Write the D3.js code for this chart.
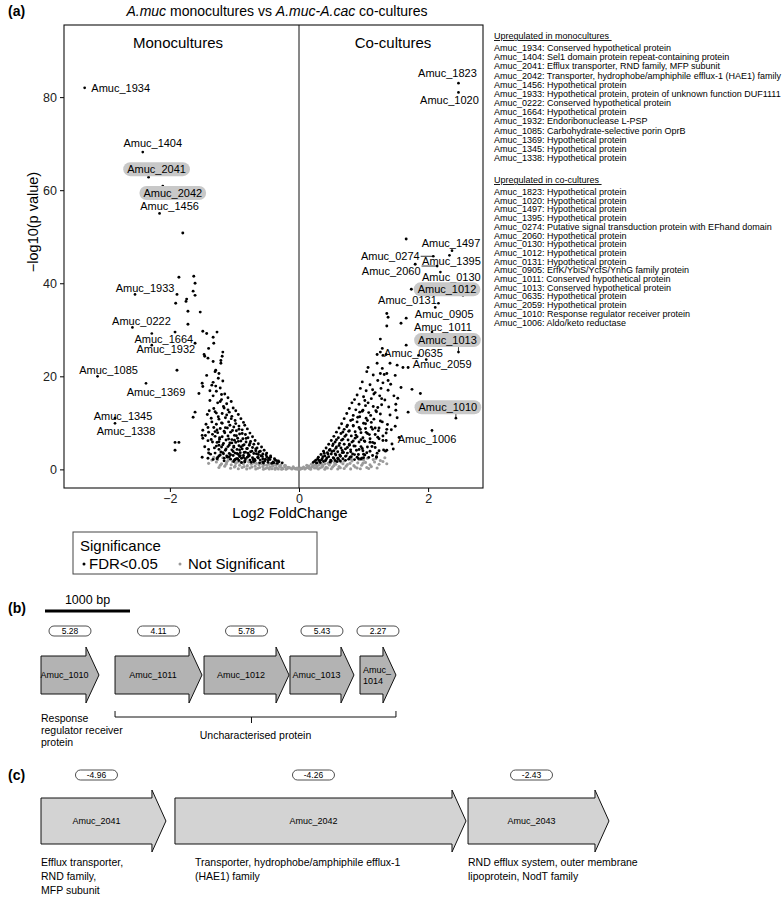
<!DOCTYPE html>
<html>
<head>
<meta charset="utf-8">
<script src="https://cdn.jsdelivr.net/npm/d3@7"></script>
<style>
  body { margin: 0; background: #fff; }
  svg { display: block; font-family: "Liberation Sans", Arial, sans-serif; }
</style>
</head>
<body>
<svg id="fig" width="784" height="903"></svg>
<script>
// ---- data ----
const xTicks = [-2, 0, 2];
const yTicks = [0, 20, 40, 60, 80];

// labelled genes: [name, log2FC, -log10 p]
const labelledGenes = [
  ["Amuc_1934", -3.32, 82.0], ["Amuc_1404", -2.42, 68.2], ["Amuc_2041", -2.33, 62.8],
  ["Amuc_2042", -2.11, 60.9], ["Amuc_1456", -2.16, 55.0], ["Amuc_1933", -2.54, 37.6],
  ["Amuc_0222", -2.58, 30.5], ["Amuc_1664", -2.28, 29.2], ["Amuc_1932", -2.28, 26.7],
  ["Amuc_1085", -3.12, 20.0], ["Amuc_1369", -2.37, 18.5], ["Amuc_1345", -2.85, 11.0],
  ["Amuc_1338", -2.85, 9.9],
  ["Amuc_1823", 2.47, 83.0], ["Amuc_1020", 2.47, 81.0], ["Amuc_1497", 2.37, 47.0],
  ["Amuc_1395", 2.33, 46.0], ["Amuc_0274", 2.08, 45.8], ["Amuc_2060", 2.14, 43.7],
  ["Amuc_0130", 2.19, 42.4], ["Amuc_1012", 2.54, 37.4], ["Amuc_0131", 2.16, 35.7],
  ["Amuc_0905", 2.11, 34.8], ["Amuc_1011", 2.06, 29.5], ["Amuc_1013", 2.47, 25.2],
  ["Amuc_0635", 1.85, 24.5], ["Amuc_2059", 1.97, 23.6], ["Amuc_1010", 2.43, 11.0],
  ["Amuc_1006", 2.06, 8.4]
];

// other significant genes (FDR<0.05), monoculture side
const sigMono = [
  [-1.80,50.8],[-1.86,41.3],[-1.63,41.5],[-1.61,40.0],[-1.64,38.3],[-1.61,37.4],[-1.89,37.6],[-1.91,35.7],
  [-1.74,36.6],[-1.75,36.1],[-1.72,34.0],[-1.53,33.8],[-1.72,31.2],[-1.92,29.5],[-1.49,29.7],[-1.43,29.2],
  [-1.27,29.5],[-1.33,28.4],[-1.32,27.1],[-1.61,27.1],[-1.40,26.0],[-1.47,24.7],[-1.46,24.3],[-1.18,25.2],
  [-1.19,24.3],[-1.41,23.9],[-1.21,23.4],[-1.21,22.8],[-1.33,23.2],[-1.89,21.3],[-1.43,20.2],[-1.29,21.3],
  [-1.24,20.6],[-1.50,18.5],[-1.49,17.8],[-1.35,18.1],[-1.55,16.3],[-1.61,12.3],[-1.64,11.2],[-1.49,8.4],
  [-1.50,7.3],[-1.49,6.7],[-1.41,9.0],[-1.40,8.0],[-1.92,5.8],[-1.86,5.8],[-1.92,4.1],[-1.50,2.6],
  [-1.41,2.4],[-1.40,4.3],[-1.27,5.8],[-1.24,5.2],
  [-1.30,21.0],[-1.25,19.6],[-1.18,19.0],[-1.22,17.5],[-1.28,16.8],[-1.15,16.2],[-1.10,15.4],[-1.20,15.0],
  [-1.33,15.8],[-1.05,14.6],[-1.12,14.1],[-1.26,14.3],[-1.38,14.8],[-1.17,13.5],[-1.02,13.2],
  [-0.98,12.6],[-1.08,12.3],[-1.19,12.0],[-1.30,12.4],[-0.94,11.8],[-1.04,11.4],[-1.14,11.1],[-1.24,10.8],
  [-1.36,11.0],[-0.90,10.9],[-0.99,10.5],[-1.09,10.2],[-1.20,10.0],[-1.28,9.7],[-0.86,10.1],
  [-0.84,9.5],[-0.93,9.3],[-1.01,9.1],[-1.11,8.9],[-1.22,8.8],[-1.32,9.0],[-0.80,8.7],[-0.88,8.5],
  [-0.97,8.3],[-1.06,8.0],[-1.16,8.2],[-1.26,7.9],[-0.76,7.8],[-0.83,7.5],[-0.92,7.6],[-1.00,7.3],
  [-1.10,7.2],[-1.19,7.0],[-1.30,7.1],[-0.72,7.0],[-0.79,6.8],[-0.87,6.6],[-0.95,6.7],[-1.04,6.4],
  [-1.13,6.3],[-1.23,6.5],[-0.68,6.2],[-0.75,6.0],[-0.82,5.9],[-0.90,6.1],[-0.98,5.8],[-1.07,5.7],
  [-1.17,5.6],[-1.34,5.9],
  [-0.63,5.5],[-0.70,5.4],[-0.77,5.2],[-0.85,5.3],[-0.93,5.1],[-1.01,5.0],[-1.10,4.9],[-1.20,4.8],
  [-1.28,5.0],[-0.58,4.8],[-0.65,4.6],[-0.72,4.7],[-0.80,4.5],[-0.88,4.4],[-0.96,4.3],[-1.04,4.2],
  [-1.14,4.1],[-1.24,4.3],[-0.54,4.1],[-0.60,3.9],[-0.67,4.0],[-0.75,3.8],[-0.83,3.7],[-0.91,3.6],
  [-0.99,3.5],[-1.08,3.4],[-1.18,3.6],[-1.30,3.5],[-0.50,3.5],[-0.56,3.3],[-0.63,3.2],[-0.70,3.4],
  [-0.78,3.1],[-0.86,3.0],[-0.94,3.2],[-1.02,3.0],[-1.12,2.9],[-1.22,3.1],
  [-0.44,2.9],[-0.50,2.7],[-0.57,2.8],[-0.64,2.6],[-0.72,2.5],[-0.80,2.6],[-0.89,2.4],[-0.97,2.3],
  [-1.06,2.2],[-1.16,2.4],[-1.27,2.3],[-0.38,2.3],[-0.45,2.1],[-0.52,2.2],[-0.60,2.0],[-0.68,1.9],
  [-0.76,2.0],[-0.84,1.8],[-0.93,1.9],[-1.01,1.7],[-0.32,1.8],[-0.40,1.6],[-0.48,1.5],[-0.56,1.6],
  [-0.26,1.4],[-0.34,1.3],
  [-0.31,1.62],[-0.37,2.05],[-0.42,1.33],[-0.47,2.41],[-0.53,1.78],[-0.59,2.93],[-0.61,1.41],[-0.66,3.37],
  [-0.69,2.18],[-0.73,3.92],[-0.74,1.52],[-0.78,2.84],[-0.81,4.46],[-0.83,2.27],[-0.85,3.63],[-0.87,5.12],
  [-0.89,1.49],[-0.91,2.96],[-0.92,4.18],[-0.94,6.03],[-0.96,3.41],[-0.97,7.24],[-0.99,2.12],[-1.01,4.77],
  [-1.03,8.36],[-1.04,5.69],[-1.06,3.13],[-1.07,9.48],[-1.09,6.52],[-1.11,2.63],[-1.12,11.7],[-1.13,4.39],
  [-1.15,7.86],[-1.16,13.2],[-1.18,5.27],[-1.19,9.93],[-1.21,3.74],[-1.22,14.6],[-1.23,6.81],[-1.25,11.3],
  [-1.26,2.55],[-1.27,8.47],[-1.29,17.9],[-1.31,4.62],[-1.32,13.1],[-1.34,7.53],[-1.35,10.2],[-1.37,3.27],
  [-1.39,12.6],[-1.41,6.18],[-1.44,9.71],[-1.46,4.86],[-0.35,1.88],[-0.44,2.62],[-0.51,3.14],[-0.56,2.29],
  [-0.62,3.76],[-0.67,4.41],[-0.71,2.07],[-0.76,5.58],[-0.79,3.47],[-0.82,6.66],[-0.86,2.58],[-0.88,7.71],
  [-0.90,4.83],[-0.93,8.62],[-0.95,2.31],[-0.98,9.84],[-1.00,6.27],[-1.02,3.86],[-1.05,10.9],[-1.08,5.24],
  [-1.10,12.8],[-1.14,8.97],[-1.17,3.37],[-1.20,16.1],[-1.24,5.94],[-1.28,12.1],[-1.30,8.12],[-1.33,18.7],
  [-1.36,6.43],[-1.38,16.9],[-1.42,11.8],[-1.45,7.29],[-0.39,1.44],[-0.48,1.93],[-0.55,1.37],[-0.63,2.44],
  [-0.70,1.71],[-0.77,2.97],[-0.84,1.61],[-0.92,2.77],[-1.00,1.96],[-1.08,2.71],[-1.16,1.83],[-1.24,2.88],
  [-1.33,2.15],[-1.40,3.51]
];

// other significant genes, co-culture side
const sigCo = [
  [1.66,49.5],[1.80,44.1],[1.74,38.7],[1.36,33.5],[1.38,32.7],[1.66,32.5],[1.58,31.4],[1.36,30.8],
  [1.26,28.0],[1.66,26.7],[1.29,26.0],[1.26,25.2],[1.30,24.5],[1.35,24.7],[1.21,24.7],[1.07,21.9],
  [1.21,22.8],[1.29,21.7],[1.41,22.8],[1.52,22.4],[1.61,21.9],[1.69,21.9],[1.36,20.6],[1.49,20.2],
  [1.26,20.6],[1.75,17.2],[1.88,16.3],[1.69,12.3],[1.53,15.3],[1.50,14.0],[1.50,12.7],[1.36,8.6],
  [1.35,6.2],[1.36,4.1],
  [1.05,21.0],[1.15,20.3],[1.22,19.1],[0.98,18.8],[1.10,18.2],[1.30,18.6],[0.95,17.4],[1.04,16.9],
  [1.18,16.5],[1.38,17.0],[0.90,16.0],[1.00,15.6],[1.12,15.2],[1.25,15.8],[0.86,15.0],
  [0.82,14.3],[0.93,14.0],[1.03,13.7],[1.15,13.5],[1.28,13.9],[0.78,13.1],[0.88,12.8],[0.98,12.5],
  [1.08,12.2],[1.20,12.4],[0.74,12.0],[0.84,11.6],[0.94,11.3],[1.04,11.0],[1.16,10.8],[0.70,10.9],
  [0.80,10.5],[0.90,10.2],[1.00,9.9],[1.12,10.1],[1.26,10.4],
  [0.66,9.8],[0.75,9.5],[0.84,9.3],[0.93,9.0],[1.03,8.8],[1.14,8.6],[1.24,8.9],[0.62,8.9],
  [0.70,8.6],[0.78,8.3],[0.87,8.1],[0.96,7.9],[1.06,7.7],[1.18,7.5],[0.58,8.0],[0.65,7.7],
  [0.73,7.4],[0.81,7.2],[0.90,7.0],[0.99,6.8],[1.10,6.6],[1.22,6.9],[0.54,7.1],[0.61,6.8],
  [0.68,6.5],[0.76,6.3],[0.84,6.1],[0.93,5.9],[1.02,6.0],[1.14,5.8],[1.30,6.2],
  [0.50,6.2],[0.56,5.9],[0.63,5.6],[0.70,5.4],[0.78,5.2],[0.87,5.0],[0.96,4.9],[1.06,4.8],
  [1.18,4.7],[0.46,5.4],[0.52,5.1],[0.58,4.8],[0.65,4.6],[0.72,4.4],[0.80,4.2],[0.89,4.1],
  [0.99,4.0],[1.10,3.9],[1.24,4.0],[0.42,4.6],[0.48,4.3],[0.54,4.0],[0.60,3.8],[0.67,3.6],
  [0.75,3.5],[0.83,3.3],[0.92,3.2],[1.02,3.1],[1.14,3.0],[0.38,3.9],[0.44,3.6],[0.50,3.3],
  [0.57,3.1],[0.64,2.9],[0.72,2.8],[0.81,2.7],[0.90,2.6],[1.00,2.5],[1.20,2.6],
  [0.34,3.2],[0.40,2.9],[0.46,2.7],[0.53,2.5],[0.60,2.4],[0.68,2.3],[0.77,2.2],[0.86,2.1],
  [0.96,2.2],[0.30,2.6],[0.36,2.3],[0.42,2.1],[0.49,2.0],[0.56,1.9],[0.64,1.8],[0.26,2.0],
  [0.32,1.8],[0.38,1.7],[0.22,1.5],[0.28,1.4],
  [0.24,1.72],[0.29,2.28],[0.33,1.46],[0.37,2.74],[0.41,1.87],[0.45,3.29],[0.48,1.58],[0.51,3.83],
  [0.54,2.36],[0.57,4.52],[0.59,1.67],[0.62,5.14],[0.64,2.81],[0.66,6.28],[0.69,3.63],[0.71,7.09],
  [0.72,1.94],[0.75,4.71],[0.77,8.17],[0.79,2.62],[0.82,5.86],[0.84,9.42],[0.86,3.18],[0.88,7.37],
  [0.91,11.2],[0.93,4.27],[0.95,8.64],[0.97,2.43],[0.99,12.7],[1.01,6.13],[1.03,9.81],[1.05,3.56],
  [1.07,14.3],[1.09,7.48],[1.11,11.6],[1.13,4.93],[1.16,16.2],[1.18,8.91],[1.20,2.74],[1.22,13.3],
  [1.24,6.57],[1.27,17.4],[1.29,10.2],[1.31,4.18],[1.33,14.9],[1.35,7.82],[1.38,19.1],[1.41,11.7],
  [1.44,5.46],[1.47,15.8],[1.49,9.26],[0.27,1.38],[0.35,2.05],[0.43,2.46],[0.50,1.79],[0.56,3.34],
  [0.61,2.19],[0.67,4.08],[0.73,2.91],[0.80,3.77],[0.85,5.03],[0.92,2.33],[0.96,6.39],[1.00,3.24],
  [1.04,7.96],[1.08,2.58],[1.12,9.07],[1.17,5.61],[1.21,3.47],[1.26,11.9],[1.30,7.16],[1.34,3.92],
  [1.39,13.4],[1.43,8.51],[1.46,4.37],[1.52,11.1],[1.55,6.84],[1.58,17.6],[0.31,1.94],[0.39,3.46],
  [0.47,4.12],[0.53,5.47],[0.58,6.36],[0.63,3.12],[0.68,8.04],[0.74,9.18],[0.78,5.42],[0.83,10.7],
  [0.87,6.71],[0.94,12.3],[0.98,4.48],[1.02,14.8],[1.06,10.5],[1.10,5.83],[1.14,17.1],[1.19,12.6],
  [1.23,8.33],[1.28,15.2],[1.32,20.4],[1.37,9.64],[1.42,18.3]
];

// not significant genes
const notSig = [
  [-1.28,1.6],[-1.20,1.2],[-1.12,1.5],[-1.05,1.0],[-0.98,1.3],[-0.92,0.9],[-0.86,1.2],[-0.80,0.8],
  [-0.74,1.1],[-0.68,0.7],[-0.62,1.0],[-0.56,0.6],[-0.50,0.9],[-0.45,0.5],[-0.40,0.8],[-0.35,0.4],
  [-0.30,0.7],[-0.26,0.3],[-0.22,0.6],[-0.18,0.2],[-0.15,0.4],[-0.11,0.1],[-0.08,0.3],[-0.05,0.1],
  [-0.02,0.05],[-1.15,0.7],[-1.00,0.5],[-0.88,0.4],[-0.76,0.3],[-0.64,0.25],[-0.52,0.2],[-0.42,0.15],
  [-0.32,0.1],[-0.20,0.05],[-0.95,1.6],[-0.70,1.4],[-0.58,1.2],[-0.46,1.1],[-0.36,1.0],[-0.28,1.0],
  [-0.22,0.9],[-1.35,2.0],[-1.10,1.9],
  [-1.32,2.6],[-1.26,2.1],[-1.22,0.9],[-1.18,2.5],[-1.13,1.1],[-1.08,2.4],[-1.03,1.7],[-0.99,0.7],
  [-0.95,2.2],[-0.90,1.5],[-0.85,0.6],[-0.82,2.0],[-0.78,1.6],[-0.73,0.5],[-0.69,1.8],[-0.66,1.3],
  [-0.61,0.4],[-0.57,1.5],[-0.54,1.0],[-0.49,0.35],[-0.44,1.25],[-0.41,0.7],[-0.37,0.25],[-0.33,1.15],
  [-0.29,0.55],[-0.25,0.15],[-0.21,0.8],[-0.17,0.45],[-0.13,0.25],[-0.09,0.55],[-0.06,0.2],[-0.03,0.3],
  [-1.40,1.3],[-1.24,0.4],[-1.06,0.25],[-0.94,0.15],[-0.81,0.1],[-0.67,0.08],[-0.55,0.05],[-0.46,0.1],
  [-0.37,0.05],[-0.27,0.02],
  [0.02,0.05],[0.05,0.2],[0.09,0.1],[0.12,0.35],[0.16,0.2],[0.20,0.5],[0.24,0.3],[0.28,0.65],
  [0.33,0.35],[0.37,0.8],[0.42,0.45],[0.47,0.95],[0.52,0.5],[0.57,1.1],[0.62,0.6],[0.68,1.2],
  [0.73,0.7],[0.79,1.3],[0.85,0.8],[0.91,1.4],[0.97,0.9],[1.03,1.5],[1.10,1.0],[1.17,1.6],
  [1.24,1.1],[1.30,1.7],[0.25,0.9],[0.35,1.1],[0.45,1.3],[0.55,1.5],[0.65,1.6],[0.82,1.8],
  [1.00,2.0],[1.15,2.1],[0.15,0.7],[0.90,0.3],[0.70,0.2],[0.50,0.15],[0.30,0.1],[1.05,0.4],
  [0.03,0.3],[0.07,0.5],[0.10,0.25],[0.14,0.55],[0.18,0.3],[0.22,0.8],[0.27,0.3],[0.31,1.0],
  [0.36,0.55],[0.40,1.2],[0.44,0.3],[0.49,1.4],[0.54,0.8],[0.59,1.7],[0.64,0.35],[0.70,1.8],
  [0.75,1.05],[0.81,2.2],[0.87,0.5],[0.93,2.1],[0.99,1.3],[1.06,2.4],[1.12,0.6],[1.19,2.3],
  [1.26,1.9],[1.33,2.5],[1.36,1.2],[1.21,0.3],[1.08,0.2],[0.95,0.15],[0.80,0.1],[0.60,0.08],
  [0.40,0.05],[0.18,0.02],[0.12,0.9],[0.19,1.1]
];

const monoList = [
  "Amuc_1934: Conserved hypothetical protein",
  "Amuc_1404: Sel1 domain protein repeat-containing protein",
  "Amuc_2041: Efflux transporter, RND family, MFP subunit",
  "Amuc_2042: Transporter, hydrophobe/amphiphile efflux-1 (HAE1) family",
  "Amuc_1456: Hypothetical protein",
  "Amuc_1933: Hypothetical protein, protein of unknown function DUF1111",
  "Amuc_0222: Conserved hypothetical protein",
  "Amuc_1664: Hypothetical protein",
  "Amuc_1932: Endoribonuclease L-PSP",
  "Amuc_1085: Carbohydrate-selective porin OprB",
  "Amuc_1369: Hypothetical protein",
  "Amuc_1345: Hypothetical protein",
  "Amuc_1338: Hypothetical protein"
];
const coList = [
  "Amuc_1823: Hypothetical protein",
  "Amuc_1020: Hypothetical protein",
  "Amuc_1497: Hypothetical protein",
  "Amuc_1395: Hypothetical protein",
  "Amuc_0274: Putative signal transduction protein with EFhand domain",
  "Amuc_2060: Hypothetical protein",
  "Amuc_0130: Hypothetical protein",
  "Amuc_1012: Hypothetical protein",
  "Amuc_0131: Hypothetical protein",
  "Amuc_0905: ErfK/YbiS/YcfS/YnhG family protein",
  "Amuc_1011: Conserved hypothetical protein",
  "Amuc_1013: Conserved hypothetical protein",
  "Amuc_0635: Hypothetical protein",
  "Amuc_2059: Hypothetical protein",
  "Amuc_1010: Response regulator receiver protein",
  "Amuc_1006: Aldo/keto reductase"
];

// gene neighbourhoods (bp from first gene start) and fold changes
const clusterB = ["Amuc_1010", "Amuc_1011", "Amuc_1012", "Amuc_1013", "Amuc_1014"];
const startB = [0, 871, 1918, 2929, 3753];
const endB = [682, 1894, 2918, 3682, 4176];
const foldB = ["5.28", "4.11", "5.78", "5.43", "2.27"];

const clusterC = ["Amuc_2041", "Amuc_2042", "Amuc_2043"];
const startC = [0, 1576, 5024];
const endC = [1470, 5000, 6682];
const foldC = ["-4.96", "-4.26", "-2.43"];
const noteC = [
  ["Efflux transporter,", "RND family,", "MFP subunit"],
  ["Transporter, hydrophobe/amphiphile efflux-1", "(HAE1) family"],
  ["RND efflux system, outer membrane", "lipoprotein, NodT family"]
];

// ---- layout ----
const svg = d3.select("#fig");
const L = 64, R = 483, T = 25, B = 488;

// label placement, pixel offsets from the point
const labelOffset = {
  Amuc_1934: [36, 0], Amuc_1404: [10, -9], Amuc_2041: [8, -8], Amuc_2042: [10, 7],
  Amuc_1456: [10, -7], Amuc_1933: [10, -6], Amuc_0222: [9, -6], Amuc_1664: [12, 5],
  Amuc_1932: [14, 4], Amuc_1085: [11, -6], Amuc_1369: [10, 9], Amuc_1345: [8, -2],
  Amuc_1338: [11, 8],
  Amuc_1823: [-11, -10], Amuc_1020: [-9, 8], Amuc_1497: [-1, -8], Amuc_1395: [2, 6],
  Amuc_0274: [-43, 0], Amuc_2060: [-46, 5], Amuc_0130: [11, 5], Amuc_1012: [-16, -6],
  Amuc_0131: [-31, -3], Amuc_0905: [9, 7], Amuc_1011: [11, -5], Amuc_1013: [-11, -12],
  Amuc_0635: [-5, -2], Amuc_2059: [16, 4], Amuc_1010: [-8, -11], Amuc_1006: [-5, 9]
};
const highlighted = ["Amuc_2041", "Amuc_2042", "Amuc_1012", "Amuc_1013", "Amuc_1010"];
const withSegment = ["Amuc_0274", "Amuc_2060", "Amuc_1013", "Amuc_1010", "Amuc_1006"];

const x = d3.scaleLinear().domain([-3.64, 2.85]).range([L, R]);
const y = d3.scaleLinear().domain([-4, 95.5]).range([B, T]);
const fmt = d => d < 0 ? "\u2212" + (-d) : String(d);

// panel letter + title
svg.append("text").attr("x", 8).attr("y", 16).attr("font-size", 14)
  .attr("font-weight", "bold").text("(a)");
const title = svg.append("text").attr("x", 277).attr("y", 16)
  .attr("text-anchor", "middle").attr("font-size", 14);
title.append("tspan").attr("font-style", "italic").text("A.muc");
title.append("tspan").text(" monocultures vs ");
title.append("tspan").attr("font-style", "italic").text("A.muc-A.cac");
title.append("tspan").text(" co-cultures");

// axes
const yAxis = d3.axisLeft(y).tickValues(yTicks).tickFormat(fmt).tickSize(4).tickPadding(3);
const xAxis = d3.axisBottom(x).tickValues(xTicks).tickFormat(fmt).tickSize(4).tickPadding(2);
svg.append("g").attr("transform", `translate(${L},0)`).call(yAxis)
  .call(g => g.select(".domain").remove())
  .call(g => g.selectAll("text").attr("font-size", 12.5).attr("fill", "#222")
    .attr("font-family", "Liberation Sans, Arial, sans-serif"));
svg.append("g").attr("transform", `translate(0,${B})`).call(xAxis)
  .call(g => g.select(".domain").remove())
  .call(g => g.selectAll("text").attr("font-size", 12.5).attr("fill", "#222")
    .attr("font-family", "Liberation Sans, Arial, sans-serif"));

svg.append("text").attr("x", 290).attr("y", 518).attr("text-anchor", "middle")
  .attr("font-size", 14.5).text("Log2 FoldChange");
svg.append("text").attr("transform", "translate(38,222) rotate(-90)")
  .attr("text-anchor", "middle").attr("font-size", 14.5).text("\u2212log10(p value)");

// panel frame and zero line
svg.append("rect").attr("x", L).attr("y", T).attr("width", R - L).attr("height", B - T)
  .attr("fill", "none").attr("stroke", "#111").attr("stroke-width", 1.1);
svg.append("line").attr("x1", x(0)).attr("x2", x(0)).attr("y1", T).attr("y2", B)
  .attr("stroke", "#111").attr("stroke-width", 1);

svg.append("text").attr("x", 178).attr("y", 48).attr("text-anchor", "middle")
  .attr("font-size", 15).text("Monocultures");
svg.append("text").attr("x", 393).attr("y", 48).attr("text-anchor", "middle")
  .attr("font-size", 15).text("Co-cultures");

// points
svg.append("g").selectAll("circle").data(notSig).join("circle")
  .attr("cx", d => x(d[0])).attr("cy", d => y(d[1])).attr("r", 1.55).attr("fill", "#9a9a9a");
svg.append("g").selectAll("circle").data(sigMono.concat(sigCo)).join("circle")
  .attr("cx", d => x(d[0])).attr("cy", d => y(d[1])).attr("r", 1.45).attr("fill", "#000");
svg.append("g").selectAll("circle").data(labelledGenes).join("circle")
  .attr("cx", d => x(d[1])).attr("cy", d => y(d[2])).attr("r", 1.35).attr("fill", "#000");

// gene labels
const lab = svg.append("g");
labelledGenes.forEach(([name, fc, p]) => {
  const px = x(fc), py = y(p);
  const [dx, dy] = labelOffset[name];
  const cx = px + dx, cy = py + dy;
  const g = lab.append("g");
  const t = g.append("text").attr("x", cx).attr("y", cy + 4)
    .attr("text-anchor", "middle").attr("font-size", 11).text(name);
  const w = t.node().getComputedTextLength();
  if (highlighted.includes(name)) {
    g.insert("rect", "text").attr("x", cx - w / 2 - 4).attr("y", cy - 7)
      .attr("width", w + 8).attr("height", 14).attr("rx", 7).attr("fill", "#c8c8c8");
  }
  if (withSegment.includes(name)) {
    const hw = w / 2 + (highlighted.includes(name) ? 4 : 1), hh = 7;
    const nx = Math.max(cx - hw, Math.min(cx + hw, px));
    const ny = Math.max(cy - hh, Math.min(cy + hh, py));
    g.append("line").attr("x1", px).attr("y1", py).attr("x2", nx).attr("y2", ny)
      .attr("stroke", "#000").attr("stroke-width", 0.8);
  }
});

// legend
svg.append("rect").attr("x", 73).attr("y", 532).attr("width", 244).attr("height", 42)
  .attr("fill", "none").attr("stroke", "#444").attr("stroke-width", 1);
svg.append("text").attr("x", 80).attr("y", 551).attr("font-size", 15).text("Significance");
svg.append("circle").attr("cx", 84).attr("cy", 564).attr("r", 1.5).attr("fill", "#000");
svg.append("text").attr("x", 89).attr("y", 569).attr("font-size", 15).text("FDR<0.05");
svg.append("circle").attr("cx", 180).attr("cy", 564).attr("r", 1.5).attr("fill", "#999");
svg.append("text").attr("x", 188).attr("y", 569).attr("font-size", 15).text("Not Significant");

// gene description lists
function list(title, rows, y0, step) {
  svg.append("text").attr("x", 494).attr("y", y0).attr("font-size", 9)
    .attr("text-decoration", "underline").text(title + "\u00a0");
  svg.append("g").selectAll("text").data(rows).join("text")
    .attr("x", 494).attr("y", (d, i) => y0 + 12 + i * step)
    .attr("font-size", 9).text(d => d);
}
list("Upregulated in monocultures", monoList, 39, 9.17);
list("Upregulated in co-cultures", coList, 183, 8.7);

// gene arrows
const bp = d3.scaleLinear().domain([0, 1000]).range([41, 126]);
function arrow(x0, x1, cy, bh, hh, hl) {
  const xb = x1 - hl;
  return `M${x0},${cy - bh}L${xb},${cy - bh}L${xb},${cy - hh}L${x1},${cy}` +
    `L${xb},${cy + hh}L${xb},${cy + bh}L${x0},${cy + bh}Z`;
}
function badge(cx, cy, txt) {
  svg.append("rect").attr("x", cx - 21).attr("y", cy - 5).attr("width", 42).attr("height", 10)
    .attr("rx", 5).attr("fill", "#fff").attr("stroke", "#222").attr("stroke-width", 0.8);
  svg.append("text").attr("x", cx).attr("y", cy + 3).attr("text-anchor", "middle")
    .attr("font-size", 8.5).text(txt);
}

// panel (b)
svg.append("text").attr("x", 8).attr("y", 613).attr("font-size", 14)
  .attr("font-weight", "bold").text("(b)");
svg.append("line").attr("x1", bp(0) + 4).attr("x2", bp(1000) + 4).attr("y1", 611).attr("y2", 611)
  .attr("stroke", "#000").attr("stroke-width", 3);
svg.append("text").attr("x", bp(500) + 4).attr("y", 604).attr("text-anchor", "middle")
  .attr("font-size", 12.5).text("1000 bp");
const cyB = 675;
clusterB.forEach((name, i) => {
  const x0 = bp(startB[i]), x1 = bp(endB[i]);
  svg.append("path").attr("d", arrow(x0, x1, cyB, 19, 28, 13))
    .attr("fill", "#b3b3b3").attr("stroke", "#111").attr("stroke-width", 1);
  badge((x0 + x1) / 2, 631, foldB[i]);
  if (name === "Amuc_1014") {
    svg.append("text").attr("x", x0 + 3).attr("y", cyB - 2).attr("font-size", 9).text("Amuc_");
    svg.append("text").attr("x", x0 + 3).attr("y", cyB + 9).attr("font-size", 9).text("1014");
  } else {
    svg.append("text").attr("x", (x0 + x1 - 13) / 2 + 1).attr("y", cyB + 3)
      .attr("text-anchor", "middle").attr("font-size", 9).text(name);
  }
});
["Response", "regulator receiver", "protein"].forEach((s, i) =>
  svg.append("text").attr("x", 41).attr("y", 722 + i * 12).attr("font-size", 10.5).text(s));
const bx0 = bp(startB[1]), bx1 = bp(endB[4]);
svg.append("path")
  .attr("d", `M${bx0},711V717H${bx1}V711M${(bx0 + bx1) / 2 - 4},717V723`)
  .attr("fill", "none").attr("stroke", "#111").attr("stroke-width", 1);
svg.append("text").attr("x", (bx0 + bx1) / 2).attr("y", 739).attr("text-anchor", "middle")
  .attr("font-size", 10.5).text("Uncharacterised protein");

// panel (c)
svg.append("text").attr("x", 8).attr("y", 780).attr("font-size", 14)
  .attr("font-weight", "bold").text("(c)");
const cyC = 821;
clusterC.forEach((name, i) => {
  const x0 = bp(startC[i]), x1 = bp(endC[i]);
  svg.append("path").attr("d", arrow(x0, x1, cyC, 23, 31, 14))
    .attr("fill", "#d3d3d3").attr("stroke", "#111").attr("stroke-width", 1);
  badge((x0 + x1 - 14) / 2, 775, foldC[i]);
  svg.append("text").attr("x", (x0 + x1 - 14) / 2).attr("y", cyC + 3)
    .attr("text-anchor", "middle").attr("font-size", 9).text(name);
  noteC[i].forEach((s, j) =>
    svg.append("text").attr("x", i === 1 ? x0 + 20 : x0).attr("y", 866 + j * 14)
      .attr("font-size", 10.5).text(s));
});
</script>
</body>
</html>
